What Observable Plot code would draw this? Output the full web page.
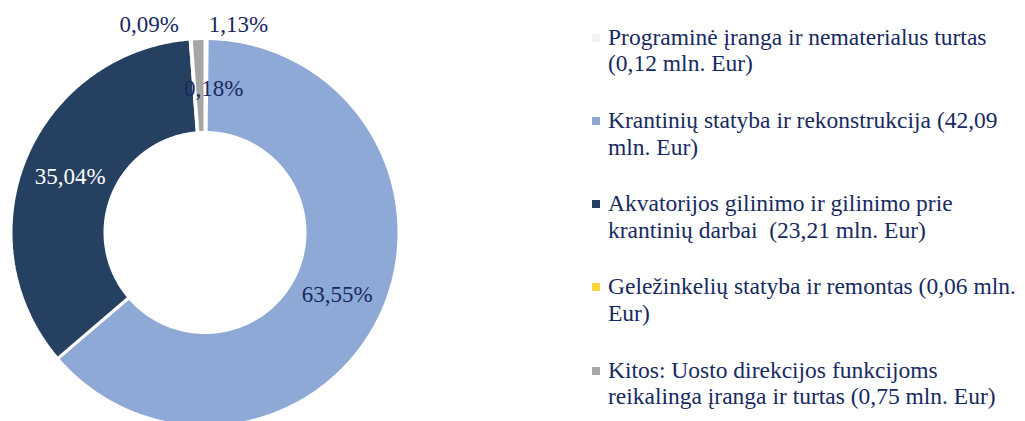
<!DOCTYPE html>
<html>
<head>
<meta charset="utf-8">
<script src="https://cdn.jsdelivr.net/npm/d3@7"></script>
<script src="https://cdn.jsdelivr.net/npm/@observablehq/plot@0.6"></script>
<style>
  html, body { margin: 0; padding: 0; background: #fff; }
  #wrap { position: relative; width: 1025px; height: 421px; overflow: hidden; font-family: "Liberation Serif", "Times New Roman", serif; }
  #chart { position: absolute; left: 0; top: 0; }
  .item { position: absolute; left: 608px; font-size: 23.5px; line-height: 26.7px; color: #172a5f; white-space: pre; }
  .sw { position: absolute; left: -16px; top: 10px; width: 8px; height: 8px; }
</style>
</head>
<body>
<div id="wrap">
  <div id="chart"></div>
  <div id="legend"></div>
</div>
<script>
// Data
const categories = [
  "Programinė įranga ir nematerialus turtas",
  "Krantinių statyba ir rekonstrukcija",
  "Akvatorijos gilinimo ir gilinimo prie krantinių darbai",
  "Geležinkelių statyba ir remontas",
  "Kitos: Uosto direkcijos funkcijoms reikalinga įranga ir turtas"
];
const amounts = [0.12, 42.09, 23.21, 0.06, 0.75]; // mln. Eur
const shares = [0.18, 63.55, 35.04, 0.09, 1.13];   // %
const shareLabels = ["0,18%", "63,55%", "35,04%", "0,09%", "1,13%"];
const colors = ["#F2F2F2", "#8EA9D6", "#264061", "#FFD43B", "#A6A6A6"];
const legendLines = [
  ["Programinė įranga ir nematerialus turtas", "(0,12 mln. Eur)"],
  ["Krantinių statyba ir rekonstrukcija (42,09", "mln. Eur)"],
  ["Akvatorijos gilinimo ir gilinimo prie", "krantinių darbai  (23,21 mln. Eur)"],
  ["Geležinkelių statyba ir remontas (0,06 mln.", "Eur)"],
  ["Kitos: Uosto direkcijos funkcijoms", "reikalinga įranga ir turtas (0,75 mln. Eur)"]
];

// Geometry (pixel-unit data space, centred on the donut)
const W = 580, H = 421;
const cx = 204.5, cy = 232;
const R = 194, r = 100;
const total = d3.sum(shares);

const slices = [];
let acc = 0;
shares.forEach((s, i) => {
  const a0 = acc / total * 2 * Math.PI;
  acc += s;
  const a1 = acc / total * 2 * Math.PI;
  slices.push({i, name: categories[i], a0, a1, mid: (a0 + a1) / 2, color: colors[i], label: shareLabels[i]});
});

const pts = [];
for (const sl of slices) {
  const n = Math.max(2, Math.ceil((sl.a1 - sl.a0) / (Math.PI / 360)));
  const ring = [];
  for (let k = 0; k <= n; k++) { const a = sl.a0 + (sl.a1 - sl.a0) * k / n; ring.push([R * Math.sin(a), R * Math.cos(a)]); }
  for (let k = n; k >= 0; k--) { const a = sl.a0 + (sl.a1 - sl.a0) * k / n; ring.push([r * Math.sin(a), r * Math.cos(a)]); }
  ring.push(ring[0]);
  for (const [x, y] of ring) pts.push({name: sl.name, color: sl.color, x, y});
}

const labR = (R + r) / 2 - 1;
const at = (sl, rad) => ({x: rad * Math.sin(sl.mid), y: rad * Math.cos(sl.mid), label: sl.label});

const font = {fontFamily: "Liberation Serif, Times New Roman, serif", fontSize: 23};
const navy = "#172a5f";

const plot = Plot.plot({
  width: W, height: H, margin: 0,
  x: {domain: [-cx, W - cx], axis: null},
  y: {domain: [cy - H, cy], axis: null},
  marks: [
    Plot.line(pts, {x: "x", y: "y", z: "name", fill: "color", stroke: "white", strokeWidth: 3, strokeLinejoin: "miter"}),
    Plot.text([at(slices[1], labR)], {x: "x", y: "y", text: "label", fill: navy, ...font}),
    Plot.text([at(slices[2], labR)], {x: "x", y: "y", text: "label", fill: "white", ...font}),
    Plot.text([at(slices[0], labR)], {x: "x", y: "y", text: "label", fill: navy, dx: 8, dy: 2, ...font}),
    Plot.text([at(slices[3], 214)], {x: "x", y: "y", text: "label", fill: navy, dx: -40, dy: 6, ...font}),
    Plot.text([at(slices[4], 214)], {x: "x", y: "y", text: "label", fill: navy, dx: 41, dy: 6, ...font})
  ]
});
document.getElementById("chart").appendChild(plot);

// Legend
const legend = document.getElementById("legend");
legendLines.forEach((lines, i) => {
  const div = document.createElement("div");
  div.className = "item";
  div.style.top = (23.7 + 83.25 * i) + "px";
  const sw = document.createElement("span");
  sw.className = "sw";
  sw.style.background = colors[i];
  div.appendChild(sw);
  div.appendChild(document.createTextNode(lines.join("\n")));
  legend.appendChild(div);
});
</script>
</body>
</html>
